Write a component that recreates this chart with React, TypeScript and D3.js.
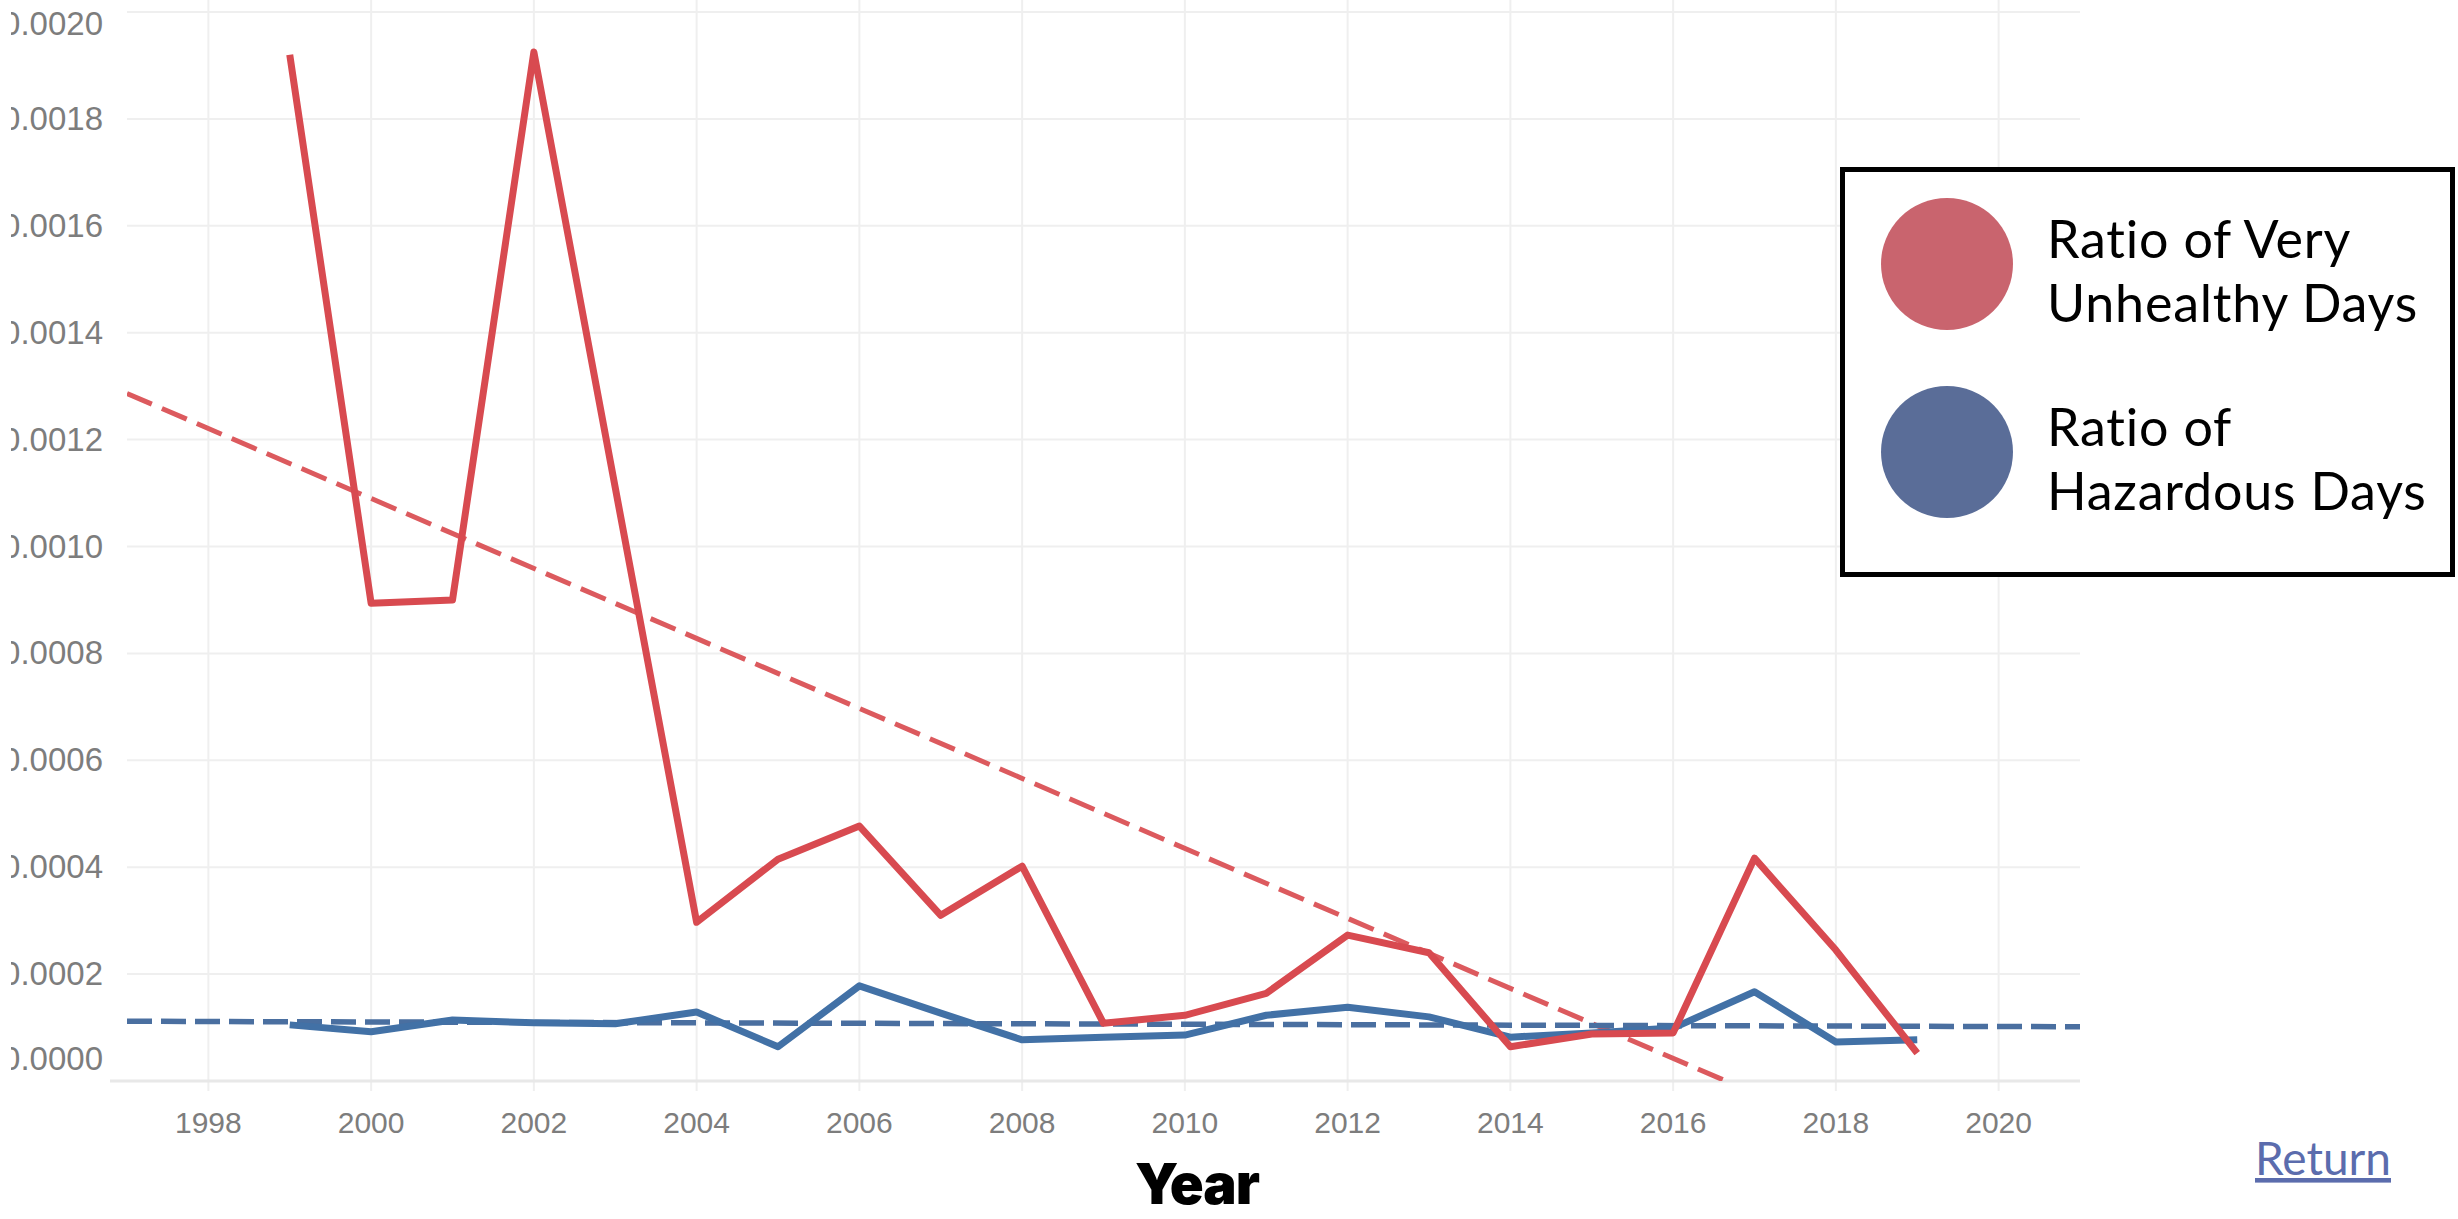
import * as d3 from "d3";
import { useEffect, useRef } from "react";

// values (ratio of days per year)
const years = [
  1999, 2000, 2001, 2002, 2003, 2004, 2005, 2006, 2007, 2008, 2009,
  2010, 2011, 2012, 2013, 2014, 2015, 2016, 2017, 2018, 2019
];
const veryUnhealthyRatio = [
  0.00192, 0.000894, 0.0009, 0.001925, 0.00111, 0.000297, 0.000415,
  0.000477, 0.00031, 0.000402, 0.000108, 0.000123, 0.000164, 0.000273,
  0.00024, 0.000064, 0.000088, 0.00009, 0.000417, 0.000245, 0.000052
];
const hazardousRatio = [
  0.000105, 0.000092, 0.000114, 0.000109, 0.000107, 0.000129, 0.000064,
  0.000178, 0.000127, 0.000077, 0.000082, 0.000086, 0.000123, 0.000138,
  0.00012, 0.000082, 0.00009, 0.000099, 0.000167, 0.000073, 0.000077
];
const xTicks = [1998, 2000, 2002, 2004, 2006, 2008, 2010, 2012, 2014, 2016, 2018, 2020];
const yTicks = [0, 0.0002, 0.0004, 0.0006, 0.0008, 0.001, 0.0012, 0.0014, 0.0016, 0.0018, 0.002];
const xDomain = [1997, 2021];
const yDomain = [0, 0.002];
const legendItems = [
  { lines: ["Ratio of Very", "Unhealthy Days"], color: "#c9646e" },
  { lines: ["Ratio of", "Hazardous Days"], color: "#5a6d98" }
];
const axisTitle = "Year";
const linkText = "Return";

const W = 2458;
const H = 1219;
const plot = { left: 127, right: 2080, top: 12, bottom: 1081 };

// least squares trend, like Tableau's linear trend line
const linearFit = (xs: number[], ys: number[]) => {
  const mx = d3.mean(xs) as number;
  const my = d3.mean(ys) as number;
  const slope =
    d3.sum(xs, (x, i) => (x - mx) * (ys[i] - my)) /
    d3.sum(xs, x => (x - mx) * (x - mx));
  return (x: number) => my + slope * (x - mx);
};

const draw = (el: SVGSVGElement) => {
  const svg = d3.select(el);
  svg.selectAll("*").remove();

  const x = d3.scaleLinear().domain(xDomain).range([plot.left, plot.right]);
  const y = d3.scaleLinear().domain(yDomain).range([plot.bottom, plot.top]);

  const defs = svg.append("defs");
  defs
    .append("clipPath")
    .attr("id", "plot-clip")
    .append("rect")
    .attr("x", plot.left)
    .attr("y", plot.top)
    .attr("width", plot.right - plot.left)
    .attr("height", plot.bottom - plot.top);
  defs
    .append("clipPath")
    .attr("id", "label-clip")
    .append("rect")
    .attr("x", 11)
    .attr("y", 0)
    .attr("width", 200)
    .attr("height", H);

  svg.append("rect").attr("width", W).attr("height", H).attr("fill", "#fff");

  // grid
  const grid = svg.append("g");
  grid
    .selectAll("line.v")
    .data(xTicks)
    .enter()
    .append("line")
    .attr("class", "v")
    .attr("x1", d => x(d))
    .attr("x2", d => x(d))
    .attr("y1", 0)
    .attr("y2", plot.bottom + 10)
    .attr("stroke", "#efefef")
    .attr("stroke-width", 2);
  grid
    .selectAll("line.h")
    .data(yTicks)
    .enter()
    .append("line")
    .attr("class", "h")
    .attr("x1", d => (d === 0 ? 110 : plot.left))
    .attr("x2", plot.right)
    .attr("y1", d => y(d))
    .attr("y2", d => y(d))
    .attr("stroke", d => (d === 0 ? "#e8e8e8" : "#efefef"))
    .attr("stroke-width", d => (d === 0 ? 3 : 2));

  // y labels (end labels pushed inward as Tableau does)
  svg
    .append("g")
    .attr("clip-path", "url(#label-clip)")
    .selectAll("text")
    .data(yTicks)
    .enter()
    .append("text")
    .attr("x", 103)
    .attr("y", (d, i) => {
      if (i === 0) return y(d) - 11;
      if (i === yTicks.length - 1) return y(d) + 23;
      return y(d) + 11;
    })
    .attr("text-anchor", "end")
    .attr("font-family", "'Liberation Sans', Arial, sans-serif")
    .attr("font-size", 33)
    .attr("fill", "#7d7d7d")
    .text(d => d3.format(".4f")(d));

  // x labels
  svg
    .append("g")
    .selectAll("text")
    .data(xTicks)
    .enter()
    .append("text")
    .attr("x", d => x(d))
    .attr("y", 1133)
    .attr("text-anchor", "middle")
    .attr("font-family", "'Liberation Sans', Arial, sans-serif")
    .attr("font-size", 30)
    .attr("fill", "#7d7d7d")
    .text(d => String(d));

  const series = [
    { values: veryUnhealthyRatio, line: "#d84a50", trend: "#dc5a5e", dash: "27,11", tw: 5 },
    { values: hazardousRatio, line: "#4271a6", trend: "#4a6fa0", dash: "25,9", tw: 5.5 }
  ];

  const line = d3
    .line<[number, number]>()
    .x(d => x(d[0]))
    .y(d => y(d[1]));

  // trend lines
  const trends = svg.append("g").attr("clip-path", "url(#plot-clip)");
  series.forEach(s => {
    const fit = linearFit(years, s.values);
    trends
      .append("path")
      .attr("d", line(xDomain.map(t => [t, fit(t)] as [number, number])))
      .attr("fill", "none")
      .attr("stroke", s.trend)
      .attr("stroke-width", s.tw)
      .attr("stroke-dasharray", s.dash);
  });

  // data lines
  const lines = svg.append("g");
  [series[1], series[0]].forEach(s => {
    lines
      .append("path")
      .attr("d", line(years.map((yr, i) => [yr, s.values[i]] as [number, number])))
      .attr("fill", "none")
      .attr("stroke", s.line)
      .attr("stroke-width", 7)
      .attr("stroke-linejoin", "round")
      .attr("stroke-linecap", "butt");
  });

  // axis title
  svg
    .append("text")
    .attr("x", 1197)
    .attr("y", 1204)
    .attr("text-anchor", "middle")
    .attr("font-family", "Inter, 'Liberation Sans', sans-serif")
    .attr("font-weight", 900)
    .attr("font-size", 56)
    .attr("letter-spacing", -1)
    .attr("fill", "#000")
    .text(axisTitle);

  // legend
  const legend = svg.append("g");
  legend
    .append("rect")
    .attr("x", 1842.5)
    .attr("y", 169.5)
    .attr("width", 610)
    .attr("height", 405)
    .attr("fill", "#fff")
    .attr("stroke", "#000")
    .attr("stroke-width", 5);
  legendItems.forEach((item, i) => {
    const cy = 264 + i * 188;
    legend
      .append("circle")
      .attr("cx", 1947)
      .attr("cy", cy)
      .attr("r", 66)
      .attr("fill", item.color);
    legend
      .append("text")
      .attr("font-family", "Lato, 'Open Sans', sans-serif")
      .attr("font-size", 52)
      .attr("letter-spacing", 0.8)
      .attr("fill", "#000")
      .selectAll("tspan")
      .data(item.lines)
      .enter()
      .append("tspan")
      .attr("x", 2047)
      .attr("y", (d, j) => cy - 6 + j * 64)
      .text(d => d);
  });

  // link
  svg
    .append("text")
    .attr("x", 2255)
    .attr("y", 1175)
    .attr("font-family", "Lato, 'Open Sans', sans-serif")
    .attr("font-size", 46)
    .attr("fill", "#5b6cad")
    .attr("text-decoration", "underline")
    .text(linkText);
};

export default function App() {
  const ref = useRef<SVGSVGElement>(null);
  useEffect(() => {
    if (ref.current) draw(ref.current);
  }, []);
  return (
    <svg
      ref={ref}
      width={W}
      height={H}
      style={{ position: "absolute", left: 0, top: 0, display: "block" }}
    />
  );
}
